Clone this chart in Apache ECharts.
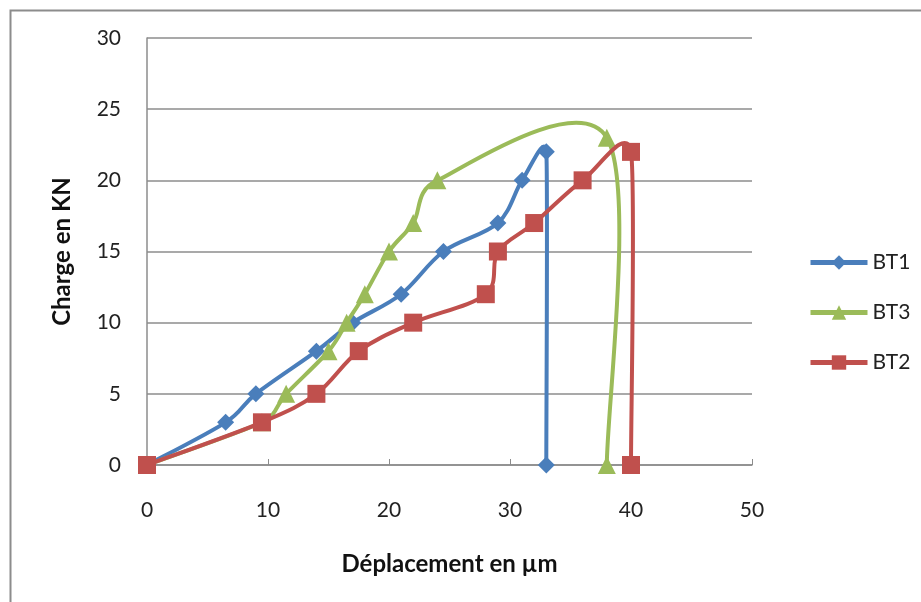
<!DOCTYPE html>
<html>
<head>
<meta charset="utf-8">
<script src="https://cdn.jsdelivr.net/npm/echarts@6/dist/echarts.min.js"></script>
<style>
html,body{margin:0;padding:0;background:#fff;}
#chart{width:921px;height:602px;}
</style>
</head>
<body>
<div id="chart"></div>
<script>
// Load–displacement curves of three specimens (displacement in µm, load in kN)
const xTicks = [0, 10, 20, 30, 40, 50];
const yTicks = [0, 5, 10, 15, 20, 25, 30];

const bt1Disp = [0, 6.5, 9, 14, 17, 21, 24.5, 29, 31, 33, 33];
const bt1Load = [0, 3, 5, 8, 10, 12, 15, 17, 20, 22, 0];

const bt3Disp = [0, 9.5, 11.5, 15, 16.5, 18, 20, 22, 24, 38, 38];
const bt3Load = [0, 3, 5, 8, 10, 12, 15, 17, 20, 23, 0];

const bt2Disp = [0, 9.5, 14, 17.5, 22, 28, 29, 32, 36, 40, 40];
const bt2Load = [0, 3, 5, 8, 10, 12, 15, 17, 20, 22, 0];

const seriesNames = ['BT1', 'BT3', 'BT2'];
const colors = ['#4A7EBB', '#9BBB59', '#C0504D'];
const symbols = ['diamond', 'triangle', 'rect'];
const symbolSizes = [17, 18, 18];
const curves = [[bt1Disp, bt1Load], [bt3Disp, bt3Load], [bt2Disp, bt2Load]];

const FONT = 'Lato, "Open Sans", sans-serif';

function pairs(xs, ys) {
  return xs.map((x, i) => [x, ys[i]]);
}

function dist(a, b) {
  return Math.hypot(b[0] - a[0], b[1] - a[1]);
}

// Tangent at point i: (next - prev) / 6, shortened so it never exceeds
// half of either neighbouring segment (keeps sharp corners from looping).
function tangent(pts, i) {
  const prev = pts[i - 1] || pts[i];
  const next = pts[i + 1] || pts[i];
  const vx = next[0] - prev[0], vy = next[1] - prev[1];
  const len = Math.hypot(vx, vy);
  if (len === 0) return [0, 0];
  let t = len / 6;
  if (i > 0) t = Math.min(t, dist(pts[i - 1], pts[i]) / 2);
  if (i < pts.length - 1) t = Math.min(t, dist(pts[i], pts[i + 1]) / 2);
  return [vx / len * t, vy / len * t];
}

// Smoothed curve through the points as cubic Bézier segments (pixel space)
function smoothPath(pts) {
  const tg = pts.map((p, i) => tangent(pts, i));
  let d = 'M' + pts[0][0] + ' ' + pts[0][1];
  for (let i = 0; i < pts.length - 1; i++) {
    const p1 = pts[i], p2 = pts[i + 1];
    d += ' C' + (p1[0] + tg[i][0]) + ' ' + (p1[1] + tg[i][1]) + ' ' +
      (p2[0] - tg[i + 1][0]) + ' ' + (p2[1] - tg[i + 1][1]) + ' ' +
      p2[0] + ' ' + p2[1];
  }
  return d;
}

// Smoothed line of one specimen, drawn from its data through the axes
function curveSeries(k) {
  const xs = curves[k][0], ys = curves[k][1];
  return {
    type: 'custom',
    id: 'curve-' + k,
    data: pairs(xs, ys),
    encode: { x: 0, y: 1 },
    z: 2 + k * 2,
    silent: true,
    renderItem: function (params, api) {
      if (params.dataIndex !== 0) return null;
      const pts = xs.map((x, i) => api.coord([x, ys[i]]));
      return {
        type: 'path',
        shape: { pathData: smoothPath(pts) },
        style: { fill: 'none', stroke: colors[k], lineWidth: 4, lineJoin: 'round', lineCap: 'round' }
      };
    }
  };
}

// Markers of one specimen (also supplies its legend entry)
function markerSeries(k) {
  return {
    type: 'line',
    name: seriesNames[k],
    data: pairs(curves[k][0], curves[k][1]),
    symbol: symbols[k],
    symbolSize: symbolSizes[k],
    showAllSymbol: true,
    lineStyle: { opacity: 0, width: 4, color: colors[k] },
    itemStyle: { color: colors[k] },
    z: 3 + k * 2
  };
}

const chart = echarts.init(document.getElementById('chart'), null, { renderer: 'canvas' });

chart.setOption({
  backgroundColor: '#fff',
  animation: false,
  color: colors,
  graphic: [{
    type: 'rect',
    left: 8, top: 8,
    shape: { x: 0, y: 0, width: 1000, height: 1000 },
    style: { fill: 'none', stroke: '#8c8c8c', lineWidth: 2 },
    silent: true
  }],
  grid: { left: 147, right: 169, top: 38, bottom: 137, containLabel: false },
  legend: {
    orient: 'vertical',
    left: 803,
    top: 247,
    itemWidth: 57,
    itemHeight: 18,
    itemGap: 29,
    data: seriesNames.map((n, k) => ({
      name: n,
      itemStyle: { color: colors[k] },
      lineStyle: { opacity: 1, width: 5, color: colors[k] }
    })),
    textStyle: { fontFamily: FONT, fontSize: 21, color: '#222' }
  },
  xAxis: {
    type: 'value',
    min: xTicks[0], max: xTicks[xTicks.length - 1], interval: 10,
    name: 'Déplacement en µm',
    nameLocation: 'middle',
    nameGap: 87,
    nameTextStyle: { fontFamily: FONT, fontSize: 24, fontWeight: 'bold', color: '#111' },
    axisLine: { lineStyle: { color: '#8c8c8c', width: 1.5 } },
    axisTick: { show: true, inside: true, length: 6, lineStyle: { color: '#8c8c8c' } },
    axisLabel: { margin: 35, fontFamily: FONT, fontSize: 21, color: '#222' },
    splitLine: { show: false }
  },
  yAxis: {
    type: 'value',
    min: yTicks[0], max: yTicks[yTicks.length - 1], interval: 5,
    name: 'Charge en KN',
    nameLocation: 'middle',
    nameGap: 73,
    nameTextStyle: { fontFamily: FONT, fontSize: 24, fontWeight: 'bold', color: '#111' },
    axisLine: { show: true, lineStyle: { color: '#8c8c8c', width: 1.5 } },
    axisTick: { show: false },
    axisLabel: { margin: 26, fontFamily: FONT, fontSize: 21, color: '#222' },
    splitLine: { lineStyle: { color: '#8c8c8c', width: 1.5 } }
  },
  series: [
    curveSeries(0), markerSeries(0),
    curveSeries(1), markerSeries(1),
    curveSeries(2), markerSeries(2)
  ]
});
</script>
</body>
</html>
